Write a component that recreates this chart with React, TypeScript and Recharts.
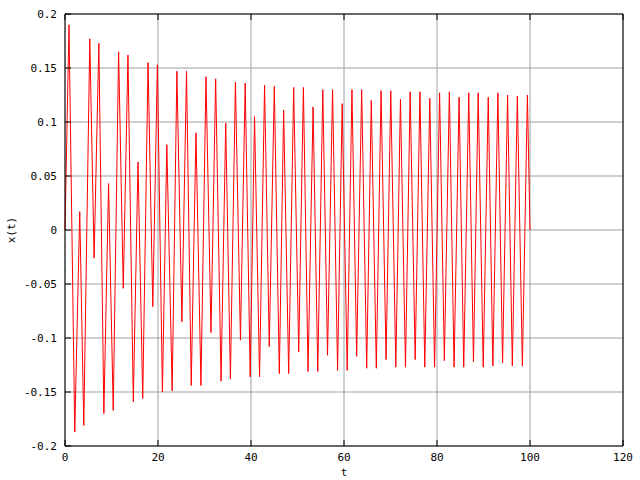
import { LineChart, Line, XAxis, YAxis, CartesianGrid } from "recharts";

// extremes of x(t), plus start and end points
const tValues = [
  0, 0.86, 2.1, 3.17, 4.04, 5.33, 6.26, 7.28, 8.36, 9.37, 10.37, 11.53, 12.53, 13.54, 14.69, 15.7, 16.72,
  17.86, 18.88, 19.87, 20.95, 21.9, 23.05, 24.06, 25.14, 26.13, 27.15, 28.16, 29.24, 30.32, 31.4, 32.4,
  33.56, 34.56, 35.57, 36.65, 37.73, 38.75, 39.83, 40.76, 41.84, 42.92, 43.93, 45.01, 46.09, 47.02, 48.1,
  49.18, 50.26, 51.27, 52.27, 53.35, 54.36, 55.44, 56.46, 57.54, 58.62, 59.61, 60.69, 61.71, 62.72, 63.8,
  64.88, 65.87, 66.95, 67.97, 69.05, 70.06, 71.14, 72.14, 73.22, 74.23, 75.31, 76.33, 77.37, 78.45, 79.48,
  80.56, 81.58, 82.66, 83.67, 84.75, 85.75, 86.83, 87.84, 88.86, 89.94, 91.02, 92.01, 93.09, 94.1, 95.18,
  96.2, 97.28, 98.36, 99.44, 100,
];

const xValues = [
  0, 0.19, -0.187, 0.017, -0.181, 0.177, -0.026, 0.173, -0.17, 0.043, -0.167, 0.165, -0.054, 0.162, -0.159,
  0.063, -0.156, 0.155, -0.071, 0.153, -0.15, 0.079, -0.149, 0.147, -0.085, 0.147, -0.144, 0.09, -0.144,
  0.142, -0.095, 0.14, -0.14, 0.099, -0.138, 0.137, -0.102, 0.136, -0.136, 0.105, -0.136, 0.134, -0.108,
  0.133, -0.133, 0.111, -0.133, 0.132, -0.113, 0.132, -0.131, 0.114, -0.131, 0.13, -0.116, 0.13, -0.13,
  0.117, -0.13, 0.13, -0.117, 0.13, -0.128, 0.12, -0.128, 0.129, -0.12, 0.129, -0.127, 0.121, -0.127, 0.128,
  -0.12, 0.128, -0.127, 0.122, -0.127, 0.127, -0.121, 0.128, -0.127, 0.123, -0.127, 0.127, -0.122, 0.127,
  -0.127, 0.123, -0.126, 0.127, -0.123, 0.125, -0.126, 0.124, -0.126, 0.125, 0,
];

const xTicks = [0, 20, 40, 60, 80, 100, 120];
const xTickLabels = ["0", "20", "40", "60", "80", "100", "120"];
const yTicks = [-0.2, -0.15, -0.1, -0.05, 0, 0.05, 0.1, 0.15, 0.2];
const yTickLabels = ["-0.2", "-0.15", "-0.1", "-0.05", "0", "0.05", "0.1", "0.15", "0.2"];

const data = tValues.map((t, i) => ({ t, x: xValues[i] }));

const FONT = "'DejaVu Sans Mono', monospace";
const tickStyle = { fontFamily: FONT, fontSize: 11, fill: "#000" };

export default function App() {
  return (
    <div style={{ position: "absolute", left: 0, top: 0, width: 640, height: 480, background: "#fff" }}>
      <LineChart width={640} height={480} data={data} margin={{ top: 0, right: 0, bottom: 0, left: 0 }}>
        <CartesianGrid stroke="#a0a0a0" strokeWidth={1} xAxisId="bottom" yAxisId="left" />
        <XAxis
          xAxisId="bottom"
          dataKey="t"
          type="number"
          domain={[0, 120]}
          ticks={xTicks}
          tickFormatter={(v: number) => xTickLabels[xTicks.indexOf(v)] ?? ""}
          height={34}
          axisLine={{ stroke: "#000" }}
          tickLine={{ stroke: "#000" }}
          tickSize={-6}
          tickMargin={13}
          tick={tickStyle}
          label={{ value: "t", position: "insideBottom", offset: 4, style: tickStyle }}
          allowDecimals
        />
        <XAxis
          xAxisId="top"
          orientation="top"
          dataKey="t"
          type="number"
          domain={[0, 120]}
          ticks={xTicks}
          tickFormatter={() => ""}
          height={14}
          axisLine={{ stroke: "#000" }}
          tickLine={{ stroke: "#000" }}
          tickSize={-6}
        />
        <YAxis
          yAxisId="left"
          type="number"
          domain={[-0.2, 0.2]}
          ticks={yTicks}
          tickFormatter={(v: number) => yTickLabels[yTicks.indexOf(v)] ?? ""}
          width={65}
          axisLine={{ stroke: "#000" }}
          tickLine={{ stroke: "#000" }}
          tickSize={-6}
          tickMargin={14}
          tick={tickStyle}
          label={{
            value: "x(t)",
            angle: -90,
            position: "insideLeft",
            offset: 11,
            style: { ...tickStyle, textAnchor: "middle" },
          }}
        />
        <YAxis
          yAxisId="right"
          orientation="right"
          type="number"
          domain={[-0.2, 0.2]}
          ticks={yTicks}
          tickFormatter={() => ""}
          width={17}
          axisLine={{ stroke: "#000" }}
          tickLine={{ stroke: "#000" }}
          tickSize={-6}
        />
        <Line
          xAxisId="bottom"
          yAxisId="left"
          type="linear"
          dataKey="x"
          stroke="#ff0000"
          strokeWidth={1}
          dot={false}
          isAnimationActive={false}
        />
      </LineChart>
    </div>
  );
}
